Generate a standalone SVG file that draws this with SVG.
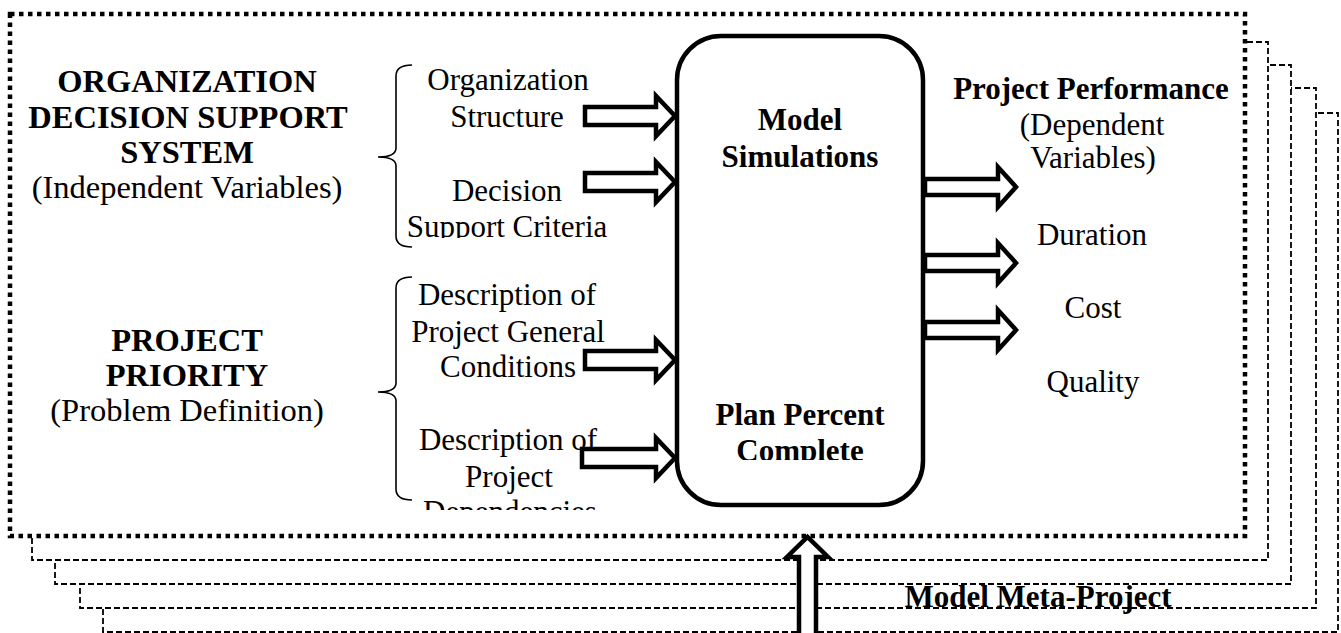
<svg xmlns="http://www.w3.org/2000/svg" width="1341" height="633" viewBox="0 0 1341 633">
<style>
text{font-family:"Liberation Serif","Times New Roman",serif;font-size:31px;fill:#000;text-anchor:middle}
.b{font-weight:bold}
.t{font-size:32.5px}
.stack{fill:#fff;stroke:#000;stroke-width:1.8;stroke-dasharray:6 3}
.main{fill:#fff;stroke:#000;stroke-width:4.5;stroke-dasharray:4.5 4.5}
.arrow{fill:#fff;stroke:#000;stroke-width:4.5;stroke-linejoin:miter}
.brace{fill:none;stroke:#000;stroke-width:1.6}
</style>
<defs>
<clipPath id="c1"><rect x="380" y="0" width="260" height="238"/></clipPath>
<clipPath id="c2"><rect x="690" y="0" width="220" height="460"/></clipPath>
<clipPath id="c3"><rect x="380" y="0" width="260" height="510"/></clipPath>
</defs>
<g id="frames">
<rect class="stack" x="103" y="113" width="1235" height="519"/>
<rect class="stack" x="80" y="88" width="1236" height="520"/>
<rect class="stack" x="55" y="65" width="1236" height="519"/>
<rect class="stack" x="32" y="42" width="1236" height="518"/>
<rect class="main" x="10" y="14" width="1235" height="522"/>
</g>
<g id="org-dss">
<text class="b t" x="187" y="92">ORGANIZATION</text>
<text class="b t" x="188" y="128">DECISION SUPPORT</text>
<text class="b t" x="187" y="163">SYSTEM</text>
<text class="t" x="187" y="198">(Independent Variables)</text>
</g>
<g id="project-priority">
<text class="b t" x="187" y="351">PROJECT</text>
<text class="b t" x="187" y="386">PRIORITY</text>
<text class="t" x="187" y="421">(Problem Definition)</text>
</g>
<g id="inputs-dss">
<path class="brace" d="M412,65 Q396,65 396,76 L396,148 Q396,157 378,157 Q396,157 396,166 L396,236 Q396,247 412,247"/>
<text x="508" y="90">Organization</text>
<text x="507" y="127">Structure</text>
<text x="507" y="201">Decision</text>
<text x="507" y="237" clip-path="url(#c1)">Support Criteria</text>
</g>
<g id="inputs-project">
<path class="brace" d="M412,277 Q396,277 396,288 L396,383 Q396,392 378,392 Q396,392 396,401 L396,489 Q396,500 412,500"/>
<text x="507" y="305">Description of</text>
<text x="508" y="342">Project General</text>
<text x="508" y="377">Conditions</text>
<text x="508" y="450">Description of</text>
<text x="509" y="487">Project</text>
<text x="510" y="522" clip-path="url(#c3)">Dependencies</text>
</g>
<g id="model">
<rect x="677" y="36" width="246" height="469" rx="44" ry="44" fill="#fff" stroke="#000" stroke-width="4.5"/>
<text class="b" x="800" y="130">Model</text>
<text class="b" x="800" y="167">Simulations</text>
<text class="b" x="800" y="425">Plan Percent</text>
<text class="b" x="800" y="461" clip-path="url(#c2)">Complete</text>
</g>
<g id="outputs">
<text class="b" x="1091" y="99">Project Performance</text>
<text x="1092" y="135">(Dependent</text>
<text x="1093" y="168">Variables)</text>
<text x="1092" y="245">Duration</text>
<text x="1093" y="318">Cost</text>
<text x="1093" y="392">Quality</text>
</g>
<g id="meta-project">
<text class="b" x="1038" y="607">Model Meta-Project</text>
</g>
<g id="connectors">
<path class="arrow" d="M585,107 L656,107 L656,96 L675,116 L656,136 L656,125 L585,125 Z"/>
<path class="arrow" d="M585,173 L656,173 L656,162 L675,182 L656,202 L656,191 L585,191 Z"/>
<path class="arrow" d="M585,351 L656,351 L656,340 L675,360 L656,380 L656,369 L585,369 Z"/>
<path class="arrow" d="M582,449 L656,449 L656,438 L675,458 L656,478 L656,467 L582,467 Z"/>
<path class="arrow" d="M925,179 L998,179 L998,167 L1016,187 L998,207 L998,195 L925,195 Z"/>
<path class="arrow" d="M925,255 L998,255 L998,243 L1016,263 L998,283 L998,271 L925,271 Z"/>
<path class="arrow" d="M925,322 L998,322 L998,310 L1016,330 L998,350 L998,338 L925,338 Z"/>
<path class="arrow" d="M799,640 L799,557 L787,557 L807.5,537 L828,557 L816,557 L816,640 Z"/>
</g>
</svg>
